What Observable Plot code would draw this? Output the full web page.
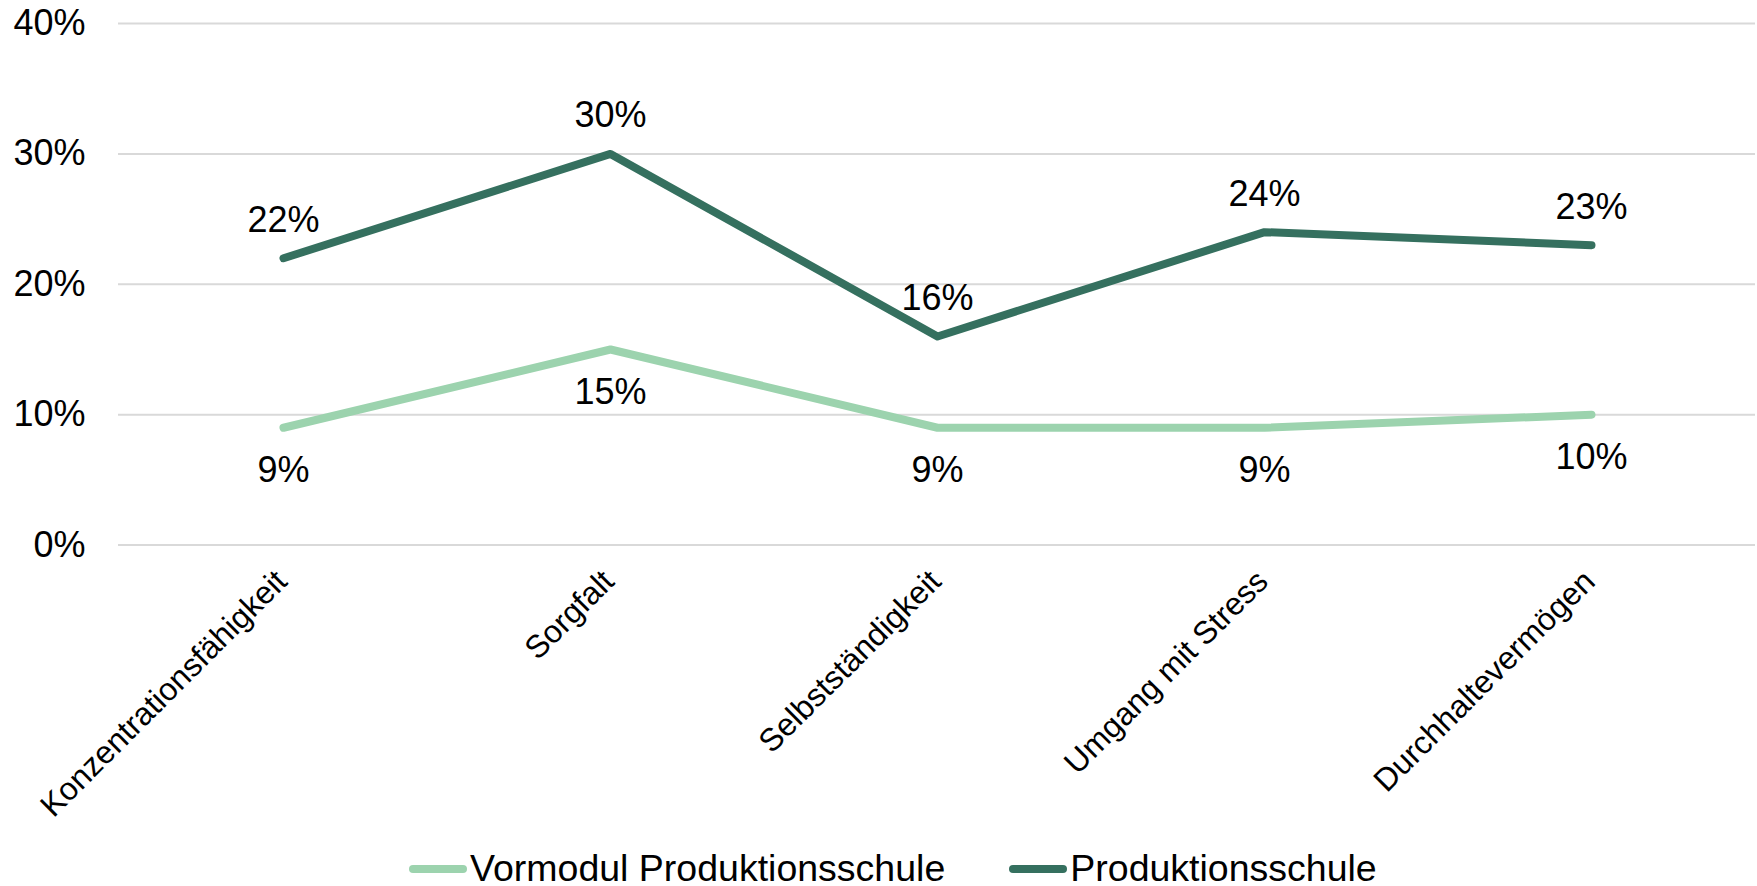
<!DOCTYPE html>
<html>
<head>
<meta charset="utf-8">
<script src="https://cdn.jsdelivr.net/npm/d3@7"></script>
<script src="https://cdn.jsdelivr.net/npm/@observablehq/plot@0.6"></script>
<style>
  html, body { margin: 0; padding: 0; background: #fff; }
  body { width: 1757px; height: 886px; position: relative; font-family: "Liberation Sans", Arial, sans-serif; }
  #legend { position: absolute; left: 409px; top: 852px; display: flex; align-items: center; font-size: 37.5px; color: #000; white-space: nowrap; line-height: 33px; }
  .item { display: flex; align-items: center; }
  .sw { width: 58px; height: 8px; border-radius: 4px; margin-right: 3px; }
</style>
</head>
<body>
<div id="chart"></div>
<div id="legend"></div>
<script>
const categories = ["Konzentrationsfähigkeit", "Sorgfalt", "Selbstständigkeit", "Umgang mit Stress", "Durchhaltevermögen"];
const seriesNames = ["Vormodul Produktionsschule", "Produktionsschule"];
const vormodul = [0.09, 0.15, 0.09, 0.09, 0.10];
const produktion = [0.22, 0.30, 0.16, 0.24, 0.23];
const yTicks = [0, 0.1, 0.2, 0.3, 0.4];
const colors = ["#9cd3ae", "#35705f"];

const rows = [];
categories.forEach((c, i) => {
  rows.push({cat: c, series: seriesNames[0], value: vormodul[i]});
  rows.push({cat: c, series: seriesNames[1], value: produktion[i]});
});
const fmt = d => Math.round(d * 100) + "%";

const chart = Plot.plot({
  width: 1757,
  height: 835,
  marginLeft: 118,
  marginRight: 2,
  marginTop: 23,
  marginBottom: 290.4,
  style: {fontFamily: "Liberation Sans, Arial, sans-serif", fontSize: "36px", color: "#000", background: "#fff"},
  x: {type: "point", domain: categories, padding: 0.5, label: null},
  y: {domain: [0, 0.4], ticks: yTicks, label: null},
  color: {domain: seriesNames, range: colors},
  marks: [
    Plot.gridY(yTicks, {stroke: "#d9d9d9", strokeOpacity: 1, strokeWidth: 2}),
    Plot.axisY(yTicks, {tickSize: 0, tickPadding: 33, tickFormat: fmt, fontSize: 36, label: null}),
    Plot.axisX({tickSize: 0, tickRotate: -45, tickPadding: 31, dx: -2, fontSize: 32, label: null}),
    Plot.lineY(rows, {x: "cat", y: "value", z: "series", stroke: "series", strokeWidth: 8, strokeLinecap: "round", strokeLinejoin: "round"}),
    Plot.text(rows.filter(d => d.series === seriesNames[1]), {x: "cat", y: "value", text: d => fmt(d.value), dy: -38, fontSize: 36, fill: "#000"}),
    Plot.text(rows.filter(d => d.series === seriesNames[0]), {x: "cat", y: "value", text: d => fmt(d.value), dy: 43, fontSize: 36, fill: "#000"})
  ]
});
document.getElementById("chart").appendChild(chart);

const legend = document.getElementById("legend");
seriesNames.forEach((s, i) => {
  const it = document.createElement("div");
  it.className = "item";
  if (i > 0) it.style.marginLeft = "64px";
  const sw = document.createElement("div");
  sw.className = "sw";
  sw.style.background = colors[i];
  const t = document.createElement("span");
  t.textContent = s;
  it.appendChild(sw);
  it.appendChild(t);
  legend.appendChild(it);
});
</script>
</body>
</html>
